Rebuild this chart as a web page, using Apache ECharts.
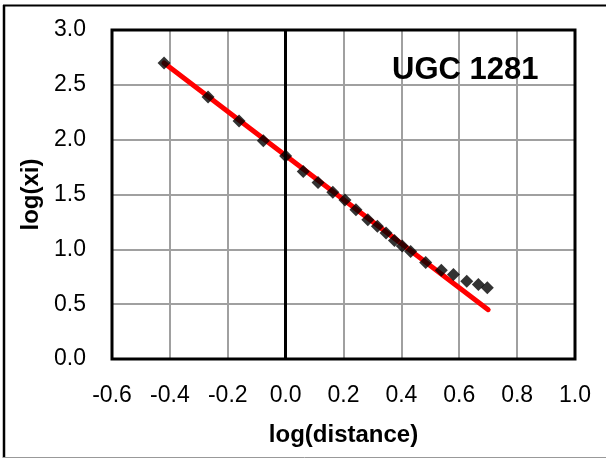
<!DOCTYPE html>
<html>
<head>
<meta charset="utf-8">
<script src="https://cdn.jsdelivr.net/npm/echarts@6/dist/echarts.min.js"></script>
<style>
  html, body { margin: 0; padding: 0; background: #fff; }
  #chart { width: 606px; height: 459px; }
</style>
</head>
<body>
<div id="chart"></div>
<script>
  // measured points, log(distance) vs log(xi)
  var logDistance = [-0.42, -0.268, -0.161, -0.077, 0.0, 0.061, 0.112, 0.163, 0.205, 0.243, 0.284, 0.317, 0.347, 0.376, 0.403, 0.432, 0.484, 0.538, 0.58, 0.626, 0.666, 0.697]
  var logXi = [2.70, 2.39, 2.17, 1.99, 1.85, 1.71, 1.61, 1.52, 1.45, 1.36, 1.27, 1.21, 1.15, 1.08, 1.03, 0.98, 0.88, 0.81, 0.77, 0.71, 0.68, 0.65]
  // fitted line end points
  var fitX = [-0.42, 0.70]
  var fitY = [2.70, 0.45]
  var chartTitle = 'UGC 1281'

  var points = []
  for (var i = 0; i < logDistance.length; i++) {
    points.push([logDistance[i], logXi[i]])
  }
  var fitLine = []
  for (i = 0; i < fitX.length; i++) {
    fitLine.push([fitX[i], fitY[i]])
  }

  var tickFont = { fontFamily: 'Liberation Sans', fontSize: 23, color: '#000' }
  var nameFont = { fontFamily: 'Liberation Sans', fontSize: 24, fontWeight: 'bold', color: '#000' }

  var chart = echarts.init(document.getElementById('chart'))
  chart.setOption({
    animation: false,
    grid: {
      left: 112,
      top: 30,
      right: 31,
      bottom: 100,
      show: true,
      borderColor: '#000',
      borderWidth: 3,
      z: 5
    },
    graphic: [
      { type: 'line', shape: { x1: 4, y1: 5, x2: 4, y2: 458 }, style: { stroke: '#000', lineWidth: 2.5 } },
      { type: 'line', shape: { x1: 3, y1: 5.5, x2: 606, y2: 5.5 }, style: { stroke: '#000', lineWidth: 2 } },
      { type: 'line', shape: { x1: 3, y1: 457.5, x2: 606, y2: 457.5 }, style: { stroke: '#999', lineWidth: 1 } },
      { type: 'text', left: 392, top: 55, z: 10,
        style: { text: chartTitle, fontFamily: 'Liberation Sans', fontSize: 31, fontWeight: 'bold', fill: '#000' } }
    ],
    xAxis: {
      type: 'value',
      min: -0.6,
      max: 1.0,
      interval: 0.2,
      name: 'log(distance)',
      nameLocation: 'middle',
      nameGap: 64,
      nameTextStyle: nameFont,
      axisLine: { show: false },
      axisTick: { show: false },
      axisLabel: Object.assign({ margin: 25, formatter: function (v) { return v.toFixed(1) } }, tickFont),
      splitLine: { lineStyle: { color: '#a0a0a0', width: 2 } }
    },
    yAxis: {
      type: 'value',
      min: 0,
      max: 3.0,
      interval: 0.5,
      name: 'log(xi)',
      nameLocation: 'middle',
      nameGap: 68,
      nameTextStyle: nameFont,
      axisLine: { show: false },
      axisTick: { show: false },
      axisLabel: Object.assign({ margin: 26, formatter: function (v) { return v.toFixed(1) } }, tickFont),
      splitLine: { lineStyle: { color: '#a0a0a0', width: 2 } }
    },
    series: [
      {
        name: 'fit',
        type: 'line',
        data: fitLine,
        symbol: 'none',
        lineStyle: { color: '#ff0000', width: 5, cap: 'round' },
        z: 3,
        markLine: {
          silent: true,
          symbol: 'none',
          label: { show: false },
          lineStyle: { color: '#000', width: 3, type: 'solid' },
          data: [{ xAxis: 0 }]
        }
      },
      {
        name: 'data',
        type: 'scatter',
        data: points,
        symbol: 'diamond',
        symbolSize: 13,
        itemStyle: { color: '#000' },
        z: 4
      }
    ]
  })
</script>
</body>
</html>
